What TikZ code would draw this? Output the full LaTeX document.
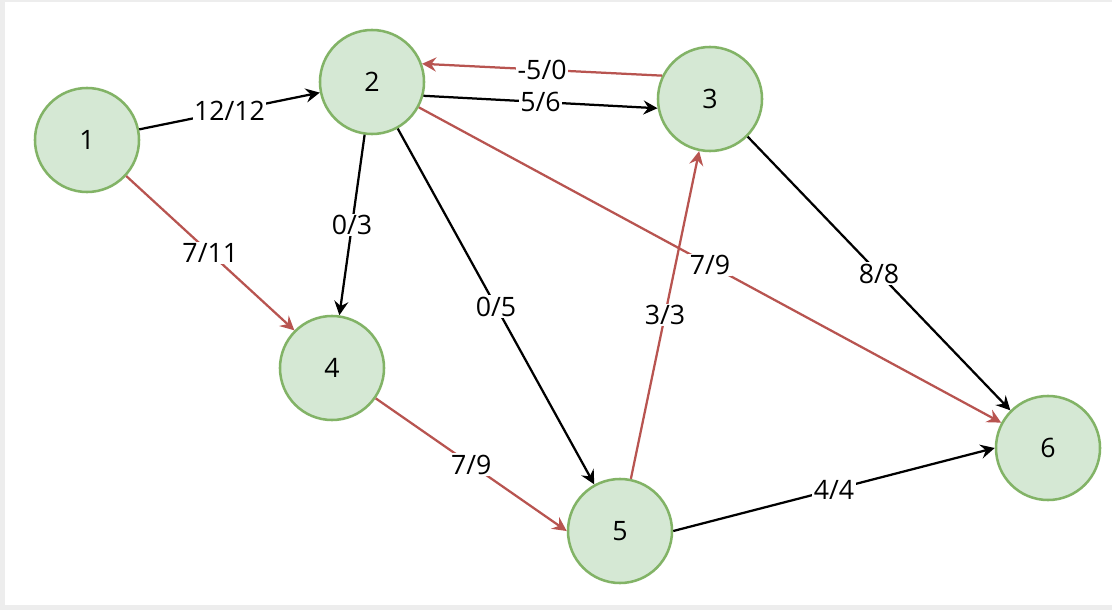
\documentclass[tikz,border=0pt]{standalone}
\usepackage{fontspec}
\setmainfont{Open Sans}
\usetikzlibrary{arrows.meta}
\definecolor{vfill}{HTML}{D5E8D4}
\definecolor{vline}{HTML}{82B366}
\definecolor{vred}{HTML}{B85450}
\begin{document}
\begin{tikzpicture}[x=0.025cm,y=-0.025cm,font=\fontsize{19}{23}\selectfont,vert/.style={shape=circle,draw=vline,fill=vfill,line width=1.8pt,minimum size=2.6cm,inner sep=0pt},flow/.style={line width=1.6pt,-{Stealth[length=10pt,width=10pt,inset=3.5pt]}},flowR/.style={flow,draw=vred},flowlbl/.style={midway,fill=white,inner sep=1pt}]
\fill[black!7] (0,0) rectangle (1112,610);
\fill[white] (5,2) rectangle (1112,605);

\node[vert] (N1) at (87,140) {1};
\node[vert] (N2) at (372,82) {2};
\node[vert] (N3) at (710,99) {3};
\node[vert] (N4) at (332,368) {4};
\node[vert] (N5) at (620,531) {5};
\node[vert] (N6) at (1048,448) {6};

\draw[flow] (N1) -- node[flowlbl] {12/12} (N2);
\draw[flow] (N2.-15) -- node[flowlbl] {5/6} (N3.-170);
\draw[flowR] (N3.154) -- node[flowlbl] {-5/0} (N2.20);
\draw[flow] (N2) -- node[flowlbl] {0/3} (N4);
\draw[flow] (N2) -- node[flowlbl] {0/5} (N5);
\draw[flowR] (N2) -- node[flowlbl] {7/9} (N6);
\draw[flowR] (N1) -- node[flowlbl] {7/11} (N4.north west);
\draw[flowR] (N4) -- node[flowlbl] {7/9} (N5.west);
\draw[flowR] (N5) -- node[flowlbl] {3/3} (N3);
\draw[flow] (N3.south east) -- node[flowlbl] {8/8} (N6.north west);
\draw[flow] (N5.east) -- node[flowlbl] {4/4} (N6.west);
\end{tikzpicture}
\end{document}
